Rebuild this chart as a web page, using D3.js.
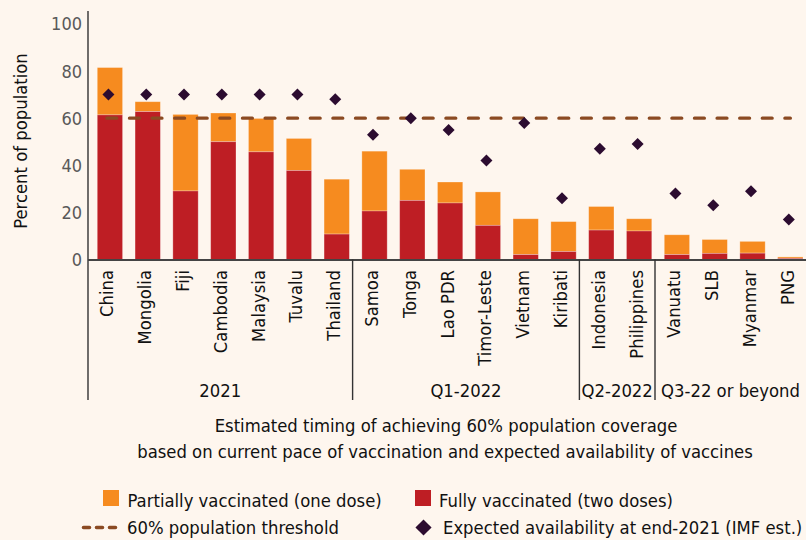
<!DOCTYPE html>
<html>
<head>
<meta charset="utf-8">
<script src="https://cdn.jsdelivr.net/npm/d3@7"></script>
<style>
  html, body { margin: 0; padding: 0; background: #fef6ee; }
  svg { display: block; font-family: "DejaVu Sans Condensed", "DejaVu Sans", sans-serif; }
</style>
</head>
<body>
<svg id="chart" width="806" height="540"></svg>
<script>
const countries = ['China', 'Mongolia', 'Fiji', 'Cambodia', 'Malaysia', 'Tuvalu', 'Thailand',
    'Samoa', 'Tonga', 'Lao PDR', 'Timor-Leste', 'Vietnam', 'Kiribati',
    'Indonesia', 'Philippines', 'Vanuatu', 'SLB', 'Myanmar', 'PNG'];
// share fully vaccinated (two doses)
const fullyVaccinated = [61.4, 62.8, 29.1, 50.0, 45.7, 37.8, 10.8, 20.6, 25.1, 24.0, 14.5, 2.1, 3.4, 12.5, 12.1, 2.1, 2.6, 2.7, 0.5];
// share with at least one dose (top of orange bar)
const atLeastOneDose = [81.5, 67.0, 61.6, 62.2, 59.9, 51.4, 34.1, 46.0, 38.3, 32.9, 28.7, 17.3, 16.1, 22.5, 17.3, 10.5, 8.5, 7.7, 1.1];
// expected availability at end-2021 (IMF est.)
const expectedAvailability = [70, 70, 70, 70, 70, 70, 68, 53, 60, 55, 42, 58, 26, 47, 49, 28, 23, 29, 17];
const threshold = 60;

const groupLabels = ['2021', 'Q1-2022', 'Q2-2022', 'Q3-22 or beyond'];
const groupFirst = ['China', 'Samoa', 'Indonesia', 'Vanuatu'];
const groupLast = ['Thailand', 'Kiribati', 'Philippines', 'PNG'];

const yTicks = [0, 20, 40, 60, 80, 100];

const colors = {
    partial: '#f68b1f',
    full: '#be1e24',
    diamond: '#2c0c30',
    threshold: '#8b4a22',
    axis: '#333',
    tick: '#595959'
};

const fontSize = 18.3;

const svg = d3.select('#chart');

const plot = {left: 88, right: 806.2, top: 11, bottom: 259.5, axisFoot: 400};

const x = d3.scaleBand().domain(countries).range([plot.left, plot.right]).paddingInner(0).paddingOuter(0);
const barOffset = x.bandwidth() * 0.245;
const barWidth = x.bandwidth() * 0.67;
const barCenter = c => x(c) + barOffset + barWidth / 2;

const y = d3.scaleLinear().domain([0, 105.5]).range([plot.bottom, plot.top]);

const rows = countries.map((c, i) => ({
    country: c,
    full: fullyVaccinated[i],
    total: atLeastOneDose[i],
    expected: expectedAvailability[i]
}));

// bars: fully vaccinated at the bottom, partially vaccinated stacked on top
const bars = svg.append('g')
    .attr('stroke', 'rgba(255,255,255,0.35)')
    .attr('stroke-width', 0.8);
bars.selectAll('rect.partial')
    .data(rows)
    .join('rect')
    .attr('class', 'partial')
    .attr('x', d => x(d.country) + barOffset)
    .attr('width', barWidth)
    .attr('y', d => y(d.total))
    .attr('height', d => y(d.full) - y(d.total))
    .attr('fill', colors.partial);
bars.selectAll('rect.full')
    .data(rows)
    .join('rect')
    .attr('class', 'full')
    .attr('x', d => x(d.country) + barOffset)
    .attr('width', barWidth)
    .attr('y', d => y(d.full))
    .attr('height', d => y(0) - y(d.full))
    .attr('fill', colors.full);

// 60% threshold
svg.append('line')
    .attr('x1', barCenter(countries[0]) - 3)
    .attr('x2', barCenter(countries[countries.length - 1]))
    .attr('y1', y(threshold))
    .attr('y2', y(threshold))
    .attr('stroke', colors.threshold)
    .attr('stroke-width', 3.4)
    .attr('stroke-linecap', 'round')
    .attr('stroke-dasharray', '9.8,12.8');

// expected availability diamonds
const diamond = d3.symbol().type(d3.symbolSquare).size(72);
svg.append('g')
    .selectAll('path')
    .data(rows)
    .join('path')
    .attr('d', diamond)
    .attr('transform', d => `translate(${barCenter(d.country) - 1.5},${y(d.expected)}) rotate(45)`)
    .attr('fill', colors.diamond);

// y axis
svg.append('line')
    .attr('x1', plot.left).attr('x2', plot.left)
    .attr('y1', plot.top).attr('y2', plot.axisFoot)
    .attr('stroke', colors.axis).attr('stroke-width', 1.4);
svg.append('g')
    .selectAll('text')
    .data(yTicks)
    .join('text')
    .attr('x', plot.left - 6)
    .attr('y', d => y(d))
    .attr('dy', '0.36em')
    .attr('text-anchor', 'end')
    .attr('font-size', 18)
    .attr('fill', colors.tick)
    .text(d => d);
svg.append('text')
    .attr('transform', `translate(27,141) rotate(-90)`)
    .attr('text-anchor', 'middle')
    .attr('font-size', fontSize)
    .attr('fill', '#111')
    .text('Percent of population');

// x axis
svg.append('line')
    .attr('x1', plot.left).attr('x2', 806)
    .attr('y1', y(0) + 0.5).attr('y2', y(0) + 0.5)
    .attr('stroke', '#444').attr('stroke-width', 1.8);

svg.append('g')
    .selectAll('text')
    .data(countries)
    .join('text')
    .attr('transform', d => `translate(${barCenter(d) + 3.5},270) rotate(-90)`)
    .attr('text-anchor', 'end')
    .attr('font-size', fontSize)
    .attr('fill', '#111')
    .text(d => d);

// group separators and labels
const groups = groupLabels.map((g, i) => ({
    label: g,
    x0: x(groupFirst[i]),
    x1: x(groupLast[i]) + x.bandwidth()
}));
svg.append('g')
    .selectAll('line')
    .data(groups.slice(1))
    .join('line')
    .attr('x1', d => d.x0).attr('x2', d => d.x0)
    .attr('y1', y(0)).attr('y2', plot.axisFoot)
    .attr('stroke', colors.axis).attr('stroke-width', 1.4);
svg.append('g')
    .selectAll('text')
    .data(groups)
    .join('text')
    .attr('x', d => (d.x0 + Math.min(d.x1, 806)) / 2)
    .attr('y', 396.5)
    .attr('text-anchor', 'middle')
    .attr('font-size', fontSize)
    .attr('fill', '#111')
    .text(d => d.label);

// x axis title
const xTitle = svg.append('text')
    .attr('text-anchor', 'middle')
    .attr('font-size', fontSize)
    .attr('fill', '#111');
xTitle.append('tspan').attr('x', 446).attr('y', 431.5)
    .text('Estimated timing of achieving 60% population coverage');
xTitle.append('tspan').attr('x', 445).attr('y', 457.5)
    .text('based on current pace of vaccination and expected availability of vaccines');

// legend
const legend = svg.append('g').attr('font-size', fontSize).attr('fill', '#111');
legend.append('rect').attr('x', 103).attr('y', 490).attr('width', 16).attr('height', 16).attr('fill', colors.partial);
legend.append('text').attr('x', 127.5).attr('y', 500).attr('dy', '0.36em').text('Partially vaccinated (one dose)');
legend.append('rect').attr('x', 415).attr('y', 490).attr('width', 16).attr('height', 16).attr('fill', colors.full);
legend.append('text').attr('x', 439).attr('y', 500).attr('dy', '0.36em').text('Fully vaccinated (two doses)');
legend.append('line')
    .attr('x1', 83.5).attr('x2', 115.5).attr('y1', 527.5).attr('y2', 527.5)
    .attr('stroke', colors.threshold).attr('stroke-width', 3.6)
    .attr('stroke-linecap', 'round').attr('stroke-dasharray', '6,7');
legend.append('text').attr('x', 127).attr('y', 527.5).attr('dy', '0.36em').text('60% population threshold');
legend.append('path')
    .attr('d', d3.symbol().type(d3.symbolSquare).size(130))
    .attr('transform', 'translate(423.5,527.5) rotate(45)')
    .attr('fill', colors.diamond);
legend.append('text').attr('x', 443).attr('y', 527.5).attr('dy', '0.36em').text('Expected availability at end-2021 (IMF est.)');
</script>
</body>
</html>
